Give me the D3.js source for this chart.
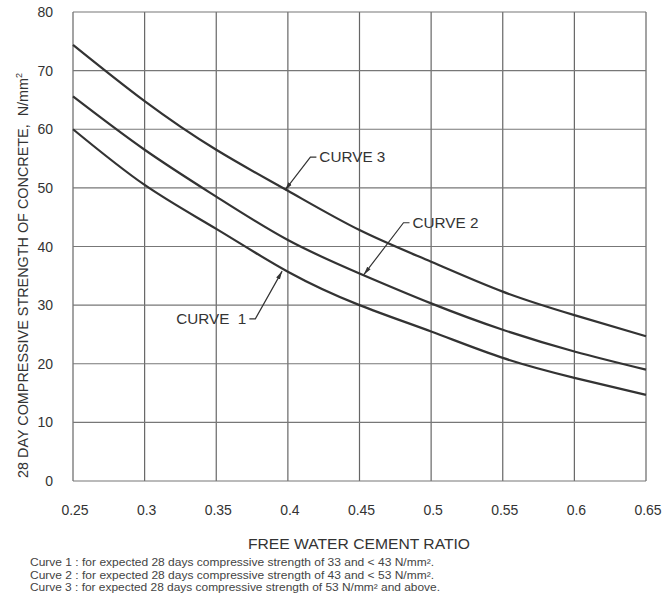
<!DOCTYPE html>
<html>
<head>
<meta charset="utf-8">
<script src="https://cdn.jsdelivr.net/npm/d3@7"></script>
<style>
  body { margin: 0; background: #fff; }
  text { font-family: "Liberation Sans", Arial, sans-serif; fill: #333; white-space: pre; }
</style>
</head>
<body>
<svg></svg>
<script>
var ratios = [0.25, 0.3, 0.35, 0.4, 0.45, 0.5, 0.55, 0.6, 0.65]
var curve1 = [60, 50.5, 43, 35.7, 30, 25.5, 21, 17.6, 14.7]
var curve2 = [65.6, 56.5, 48.5, 41.1, 35.4, 30.3, 25.8, 22.1, 19]
var curve3 = [74.4, 64.8, 56.5, 49.5, 42.8, 37.4, 32.3, 28.3, 24.7]
var xTicks = [0.25, 0.3, 0.35, 0.4, 0.45, 0.5, 0.55, 0.6, 0.65]
var yTicks = [0, 10, 20, 30, 40, 50, 60, 70, 80]
var notes = [
  "Curve 1 : for expected 28 days compressive strength of 33 and < 43 N/mm\u00b2.",
  "Curve 2 : for expected 28 days compressive strength of 43 and < 53 N/mm\u00b2.",
  "Curve 3 : for expected 28 days compressive strength of 53 N/mm\u00b2 and above."
]
var noteWidths = [404, 404, 410]
// label text, point on curve (ratio, value), text position (ratio, value)
var labels = [
  {name: "CURVE  1", at: [0.396, 35.8], txt: [0.371, 26.8], end: "end"},
  {name: "CURVE 2", at: [0.453, 35.2], txt: [0.487, 43.2], end: "start"},
  {name: "CURVE 3", at: [0.398, 49.6], txt: [0.422, 54.4], end: "start"}
]

var width = 665, height = 596
var margins = {top: 12, left: 73, right: 19, bottom: 115}

var svg = d3.select("svg")
  .attr("width", width)
  .attr("height", height)

var xScale = d3.scaleLinear()
  .domain([0.25, 0.65])
  .range([margins.left, width - margins.right])

var yScale = d3.scaleLinear()
  .domain([0, 80])
  .range([height - margins.bottom, margins.top])

// grid
svg.append("g")
  .selectAll("line")
  .data(xTicks)
  .enter().append("line")
  .attr("x1", function(d){return xScale(d)})
  .attr("x2", function(d){return xScale(d)})
  .attr("y1", yScale(0))
  .attr("y2", yScale(80))
  .attr("stroke", "#666")
  .attr("stroke-width", 1.2)

svg.append("g")
  .selectAll("line")
  .data(yTicks)
  .enter().append("line")
  .attr("x1", xScale(0.25))
  .attr("x2", xScale(0.65))
  .attr("y1", function(d){return yScale(d)})
  .attr("y2", function(d){return yScale(d)})
  .attr("stroke", "#777")
  .attr("stroke-width", 1.2)

// tick labels
svg.append("g")
  .selectAll("text")
  .data(xTicks)
  .enter().append("text")
  .attr("x", function(d){return xScale(d) + 2})
  .attr("y", yScale(0) + 34)
  .attr("text-anchor", "middle")
  .style("font-size", "14px")
  .text(function(d){return d})

svg.append("g")
  .selectAll("text")
  .data(yTicks)
  .enter().append("text")
  .attr("x", 53)
  .attr("y", function(d){return yScale(d) + 5})
  .attr("text-anchor", "end")
  .style("font-size", "14px")
  .text(function(d){return d})

// axis titles
svg.append("text")
  .attr("x", 248)
  .attr("y", 549)
  .attr("textLength", 222)
  .attr("lengthAdjust", "spacingAndGlyphs")
  .style("font-size", "14px")
  .text("FREE WATER CEMENT RATIO")

var yt = svg.append("text")
  .attr("transform", "translate(28,478) rotate(-90)")
  .style("font-size", "14px")
yt.append("tspan")
  .attr("textLength", 400)
  .attr("lengthAdjust", "spacingAndGlyphs")
  .text("28 DAY COMPRESSIVE STRENGTH OF CONCRETE,  N/mm")
yt.append("tspan").attr("dy", -6).style("font-size", "9px").text("2")

// curves
var drawLine = d3.line()
  .x(function(d,i){return xScale(ratios[i])})
  .y(function(d){return yScale(d)})
  .curve(d3.curveNatural)

var series = [curve1, curve2, curve3]
svg.append("g")
  .selectAll("path")
  .data(series)
  .enter().append("path")
  .attr("d", drawLine)
  .attr("fill", "none")
  .attr("stroke", "#333")
  .attr("stroke-width", 2.2)

// curve labels with leader lines
svg.append("defs").append("marker")
  .attr("id", "arr")
  .attr("viewBox", "0 0 10 10")
  .attr("refX", 10).attr("refY", 5)
  .attr("markerWidth", 7).attr("markerHeight", 7)
  .attr("orient", "auto")
  .append("path")
  .attr("d", "M0,2.5 L10,5 L0,7.5 Z")
  .attr("fill", "#333")

var lab = svg.append("g").selectAll("g").data(labels).enter().append("g")

lab.append("path")
  .attr("d", function(d){
    var tx = xScale(d.txt[0]), ty = yScale(d.txt[1])
    var sx = d.end == "end" ? tx + 3 : tx - 3
    var bx = d.end == "end" ? tx + 9 : tx - 9
    return "M" + sx + "," + (ty - 5) +
      " L" + bx + "," + (ty - 5) +
      " L" + xScale(d.at[0]) + "," + yScale(d.at[1])
  })
  .attr("fill", "none")
  .attr("stroke", "#333")
  .attr("stroke-width", 1.2)
  .attr("marker-end", "url(#arr)")

lab.append("text")
  .attr("x", function(d){return xScale(d.txt[0])})
  .attr("y", function(d){return yScale(d.txt[1])})
  .attr("text-anchor", function(d){return d.end})
  .attr("textLength", function(d){return d.end == "end" ? 70 : 66})
  .attr("lengthAdjust", "spacingAndGlyphs")
  .style("font-size", "14px")
  .text(function(d){return d.name})

// footnotes
svg.append("g")
  .selectAll("text")
  .data(notes)
  .enter().append("text")
  .attr("x", 30)
  .attr("y", function(d,i){return 566 + i*12.5})
  .attr("textLength", function(d,i){return noteWidths[i]})
  .attr("lengthAdjust", "spacingAndGlyphs")
  .style("font-size", "10px")
  .style("fill", "#444")
  .text(function(d){return d})
</script>
</body>
</html>
